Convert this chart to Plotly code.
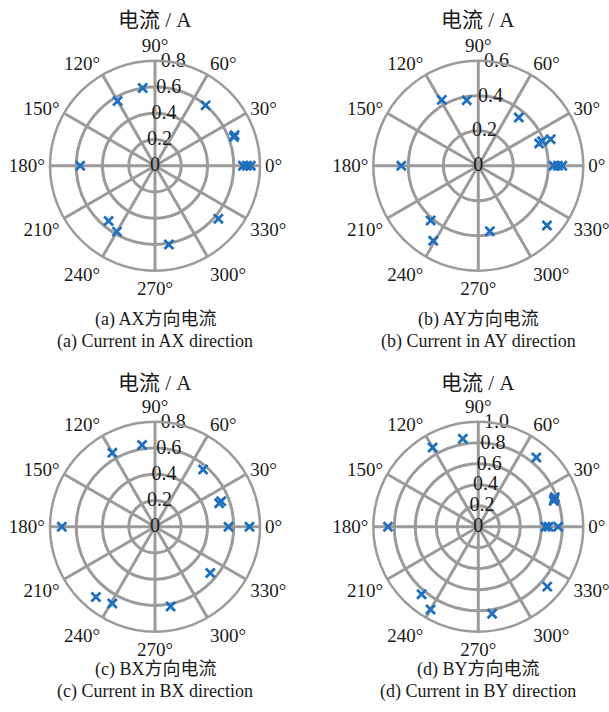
import plotly.graph_objects as go

# ---------------- data ----------------
theta_ax = [99, 120, 50, 20, 21, 0, 0, 0, 180, 230, 240, 280, 320]
r_ax = [0.60, 0.57, 0.60, 0.64, 0.65, 0.67, 0.70, 0.73, 0.57, 0.55, 0.58, 0.61, 0.63]

theta_ay = [100, 119, 50, 20, 21, 20, 0, 0, 0, 180, 229, 239, 280, 319]
r_ay = [0.38, 0.43, 0.36, 0.37, 0.39, 0.44, 0.43, 0.455, 0.48, 0.44, 0.415, 0.50, 0.38, 0.52]

theta_bx = [99, 120, 50, 20, 21, 0, 0, 180, 230, 241, 281, 320]
r_bx = [0.63, 0.65, 0.57, 0.52, 0.54, 0.56, 0.72, 0.71, 0.70, 0.67, 0.62, 0.55]

theta_by = [100, 120, 50, 19, 20, 21, 0, 0, 0, 180, 230, 240, 279, 319]
r_by = [0.85, 0.87, 0.86, 0.76, 0.77, 0.78, 0.64, 0.67, 0.76, 0.86, 0.84, 0.91, 0.84, 0.87]

rmax = [0.8, 0.6, 0.8, 1.0]
rticks = [
    [0, 0.2, 0.4, 0.6, 0.8],
    [0, 0.2, 0.4, 0.6],
    [0, 0.2, 0.4, 0.6, 0.8],
    [0, 0.2, 0.4, 0.6, 0.8, 1.0],
]
rticklabels = [
    ["0", "0.2", "0.4", "0.6", "0.8"],
    ["0", "0.2", "0.4", "0.6"],
    ["0", "0.2", "0.4", "0.6", "0.8"],
    ["0", "0.2", "0.4", "0.6", "0.8", "1.0"],
]
angle_vals = list(range(0, 360, 30))
angle_labels = [f"{a}°" for a in angle_vals]

titles = ["电流 / A"] * 4
captions_cn = ["(a) AX方向电流", "(b) AY方向电流", "(c) BX方向电流", "(d) BY方向电流"]
captions_en = ["(a) Current in AX direction", "(b) Current in AY direction",
               "(c) Current in BX direction", "(d) Current in BY direction"]

# ---------------- style / layout ----------------
W, H = 609, 712
FONT = "Liberation Serif, Times New Roman, Noto Sans CJK SC, serif"
GRID = "#9b9b9b"
BLUE = "#1f6fbf"
TXT = "#1a1a1a"
R_PX = 105
centers = [(155, 165.7), (478.3, 165.7), (155, 526.7), (478.3, 526.7)]
title_y = [20, 20, 382.5, 382.5]
cap1_y = [319, 319, 669, 669]
cap2_y = [341, 341, 691, 691]

fig = go.Figure()
data = [(theta_ax, r_ax), (theta_ay, r_ay), (theta_bx, r_bx), (theta_by, r_by)]

for i, (th, rr) in enumerate(data):
    pname = "polar" if i == 0 else f"polar{i+1}"
    fig.add_trace(go.Scatterpolar(
        r=rr, theta=th, mode="markers", subplot=pname,
        marker=dict(symbol="x-thin", size=9, line=dict(color=BLUE, width=2.8), color=BLUE),
        showlegend=False, hoverinfo="skip", cliponaxis=False,
    ))
    fig.add_trace(go.Scatterpolar(
        r=rticks[i], theta=[80] * len(rticks[i]), mode="text", subplot=pname,
        text=rticklabels[i], textposition="middle center",
        textfont=dict(family=FONT, size=20, color=TXT),
        showlegend=False, hoverinfo="skip", cliponaxis=False,
    ))
    cx, cy = centers[i]
    dom = dict(
        x=[(cx - R_PX) / W, (cx + R_PX) / W],
        y=[1 - (cy + R_PX) / H, 1 - (cy - R_PX) / H],
    )
    fig.update_layout(**{pname: dict(
        domain=dom,
        bgcolor="white",
        radialaxis=dict(
            range=[0, rmax[i]], tickvals=rticks[i], showticklabels=False,
            showline=False, ticks="", gridcolor=GRID, gridwidth=2.5, angle=90,
        ),
        angularaxis=dict(
            rotation=0, direction="counterclockwise", tickmode="array",
            tickvals=angle_vals, ticktext=angle_labels, ticks="",
            showline=True, linecolor=GRID, linewidth=2.5,
            gridcolor=GRID, gridwidth=2.5,
            tickfont=dict(family=FONT, size=19, color=TXT),
        ),
    )})
    # title and captions
    fig.add_annotation(x=cx / W, y=1 - title_y[i] / H, xref="paper", yref="paper",
                       text=titles[i], showarrow=False, xanchor="center", yanchor="middle",
                       font=dict(family=FONT, size=21, color=TXT))
    fig.add_annotation(x=cx / W, y=1 - cap1_y[i] / H, xref="paper", yref="paper",
                       text=captions_cn[i], showarrow=False, xanchor="center", yanchor="middle",
                       font=dict(family=FONT, size=18, color=TXT))
    fig.add_annotation(x=cx / W, y=1 - cap2_y[i] / H, xref="paper", yref="paper",
                       text=captions_en[i], showarrow=False, xanchor="center", yanchor="middle",
                       font=dict(family=FONT, size=18, color=TXT))

fig.update_layout(
    width=W, height=H, margin=dict(l=0, r=0, t=0, b=0),
    paper_bgcolor="white", plot_bgcolor="white",
    font=dict(family=FONT, size=18, color=TXT),
)

fig.write_html("out.html")
